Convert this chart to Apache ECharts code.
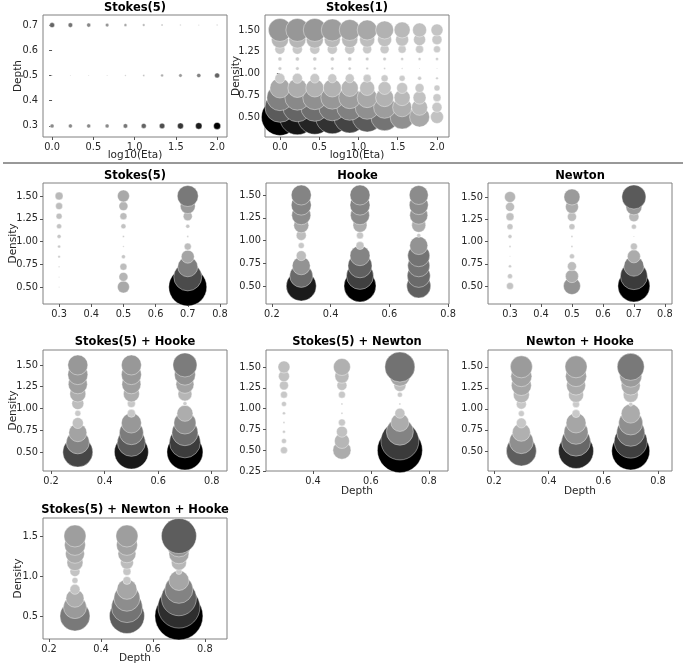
<!DOCTYPE html>
<html><head><meta charset="utf-8">
<script src="https://cdn.jsdelivr.net/npm/echarts@6/dist/echarts.min.js"></script>
<style>html,body{margin:0;padding:0;background:#fff}#c{width:685px;height:665px}</style>
</head><body><div id="c"></div>
<script>
// ---------------- data ----------------
const LOG_ETA = [0, 0.222, 0.444, 0.667, 0.889, 1.111, 1.333, 1.556, 1.778, 2.0];
const DENSITY = [0.5, 0.611, 0.722, 0.833, 0.944, 1.056, 1.167, 1.278, 1.389, 1.5];
const DEPTH = [0.3, 0.5, 0.7];

// Stokes(5) vs log10(Eta): one row per depth (0.3, 0.5, 0.7), values over LOG_ETA
const stokes5EtaMag = [
  [4, 4, 4, 4, 4.5, 5, 5.5, 6, 6.5, 7],
  [1, 1, 1, 1.2, 1.5, 2, 2.8, 3.5, 4.2, 5],
  [5, 4.6, 4.1, 3.6, 3, 2.5, 2, 1.5, 1.2, 1.5]
];
// Stokes(1) vs log10(Eta): one row per density (0.5 ... 1.5), values over LOG_ETA
const stokes1EtaMag = [
  [37, 35.5, 34.5, 33.5, 32, 30, 27.5, 24, 20, 13],
  [30, 29, 28, 27, 26, 24, 22, 19, 16, 10],
  [26, 25, 24, 23, 22, 20, 18, 16, 13, 8],
  [20, 19, 18, 18, 17, 15, 13, 11, 9, 6],
  [10, 10, 9.5, 9, 9, 8, 7, 6, 4, 2.5],
  [3.5, 3.5, 3, 3, 3, 2.5, 2, 1.5, 1, 1],
  [4, 4, 4, 4, 4, 3.5, 3.5, 3, 3, 3],
  [10, 10, 10, 10, 10, 9, 9, 8, 8, 7],
  [17, 17, 17, 16, 16, 15, 14, 13, 12, 10],
  [23, 23, 23, 22, 21, 20, 18, 16, 14, 12]
];
// Depth-vs-density panels: one column per depth (0.3, 0.5, 0.7), values over DENSITY
const stokes5Mag = [
  [1, 1, 1.5, 2.5, 3, 4, 5, 6, 7, 8],
  [12, 9, 7, 4, 1.5, 2, 5, 7, 9, 12],
  [38, 28, 20, 13, 7, 2, 4, 9, 15, 21]
];
const hookeMag = [
  [30, 23, 18, 10, 6, 10, 15, 19, 20, 20],
  [32, 27, 24, 20, 8, 7, 14, 19, 20, 20],
  [24, 23, 22, 22, 18, 4, 14, 18, 19, 19]
];
const newtonMag = [
  [7, 5, 3, 1, 2, 4, 6, 8, 9, 11],
  [17, 13, 9, 5, 2, 2, 6, 9, 13, 16],
  [32, 27, 20, 13, 7, 1, 5, 10, 16, 24]
];
const stokesHookeMag = [
  [30, 23, 18, 11, 6, 12, 16, 19, 20, 20],
  [34, 28, 24, 20, 8, 8, 16, 19, 20, 20],
  [36, 31, 26, 22, 16, 4, 14, 18, 21, 24]
];
const stokesNewtonMag = [
  [7, 5, 3, 2, 3, 5, 7, 9, 11, 12],
  [18, 15, 11, 7, 2, 2, 7, 10, 14, 17],
  [45, 38, 27, 18, 10, 2, 5, 12, 20, 30]
];
const newtonHookeMag = [
  [30, 24, 18, 10, 6, 10, 16, 20, 21, 22],
  [35, 29, 24, 20, 8, 7, 15, 19, 21, 22],
  [38, 33, 28, 24, 19, 4, 15, 19, 22, 27]
];
const allThreeMag = [
  [30, 23, 18, 10, 6, 10, 16, 19, 21, 22],
  [35, 31, 26, 20, 8, 8, 13, 18, 21, 22],
  [48, 42, 35, 28, 20, 6, 15, 20, 24, 35]
];

// tick labels
const ETA_TICKS = [0, 0.5, 1.0, 1.5, 2.0];
const DEPTH_Y_TICKS = [0.3, 0.4, 0.5, 0.6, 0.7];
const DENSITY_TICKS = [0.5, 0.75, 1.0, 1.25, 1.5];
const DENSITY_TICKS_WIDE = [0.25, 0.5, 0.75, 1.0, 1.25, 1.5];
const DENSITY_TICKS_COARSE = [0.5, 1.0, 1.5];
const DEPTH_TICKS_FINE = [0.3, 0.4, 0.5, 0.6, 0.7, 0.8];
const DEPTH_TICKS = [0.2, 0.4, 0.6, 0.8];
const DEPTH_TICKS_SHORT = [0.4, 0.6, 0.8];

const TITLES = ['Stokes(5)', 'Stokes(1)', 'Stokes(5)', 'Hooke', 'Newton',
  'Stokes(5) + Hooke', 'Stokes(5) + Newton', 'Newton + Hooke', 'Stokes(5) + Newton + Hooke'];

// ---------------- build points ----------------
function rowsOverEta(rows, rowVals) {
  const pts = [];
  rows.forEach((row, i) => row.forEach((m, j) => pts.push([LOG_ETA[j], rowVals[i], m, m * m])));
  return pts;
}
function colsOverDensity(cols) {
  const pts = [];
  cols.forEach((col, i) => col.forEach((m, j) => pts.push([DEPTH[i], DENSITY[j], m, m * m])));
  return pts;
}
const panelData = [
  rowsOverEta(stokes5EtaMag, DEPTH),
  rowsOverEta(stokes1EtaMag, DENSITY),
  colsOverDensity(stokes5Mag),
  colsOverDensity(hookeMag),
  colsOverDensity(newtonMag),
  colsOverDensity(stokesHookeMag),
  colsOverDensity(stokesNewtonMag),
  colsOverDensity(newtonHookeMag),
  colsOverDensity(allThreeMag)
];

// ---------------- layout / style ----------------
const L = [
  {g:[43,15,184,122], x:[-0.11,2.12], y:[0.256,0.74], xt:ETA_TICKS, yt:DEPTH_Y_TICKS, xd:1, yd:1, ty:8, xn:'log10(Eta)', xg:13, yn:'Depth', yg:19, gm:1, textLabels:true},
  {g:[265,15,184,122], x:[-0.19,2.153], y:[0.27,1.672], xt:ETA_TICKS, yt:DENSITY_TICKS, xd:1, yd:2, ty:8, xn:'log10(Eta)', xg:13, yn:'Density', yg:23, gm:1.4},
  {g:[43,183,184,121], x:[0.25,0.822], y:[0.313,1.643], xt:DEPTH_TICKS_FINE, yt:DENSITY_TICKS, xd:1, yd:2, ty:176, yn:'Density', yg:24, gm:0.75},
  {g:[266,183,183,121], x:[0.18,0.803], y:[0.302,1.632], xt:DEPTH_TICKS, yt:DENSITY_TICKS, xd:1, yd:2, ty:176, gm:1.1},
  {g:[488,183,184,121], x:[0.229,0.823], y:[0.298,1.657], xt:DEPTH_TICKS_FINE, yt:DENSITY_TICKS, xd:1, yd:2, ty:176, gm:1},
  {g:[43,350,184,121], x:[0.17,0.857], y:[0.282,1.672], xt:DEPTH_TICKS, yt:DENSITY_TICKS, xd:1, yd:2, ty:342, yn:'Density', yg:24, gm:1.15},
  {g:[266,350,182,121], x:[0.238,0.866], y:[0.25,1.704], xt:DEPTH_TICKS_SHORT, yt:DENSITY_TICKS_WIDE, xd:1, yd:2, ty:342, xn:'Depth', xg:15, gm:1},
  {g:[488,350,184,121], x:[0.178,0.851], y:[0.262,1.70], xt:DEPTH_TICKS, yt:DENSITY_TICKS, xd:1, yd:2, ty:342, xn:'Depth', xg:15, gm:1.3},
  {g:[43,518,184,121], x:[0.177,0.885], y:[0.2125,1.725], xt:DEPTH_TICKS, yt:DENSITY_TICKS_COARSE, xd:1, yd:1, ty:510, xn:'Depth', xg:14, yn:'Density', yg:19, gm:0.95}
];

const FONT = 'DejaVu Sans';
const TXT = '#262626';
const TICK_FS = 9.8;
const grid = [], xAxis = [], yAxis = [], series = [], visualMap = [], title = [];
function axCommon(ticks, dec, labelTicks) {
  return {
    axisLine:{show:false}, splitLine:{show:false},
    axisTick:{show:!!ticks, customValues:ticks || [], length:3, inside:false, lineStyle:{color:'#555', width:1}},
    axisLabel:{show:!!labelTicks, customValues:labelTicks || [], formatter:v => Number(v).toFixed(dec),
      hideOverlap:false, color:TXT, fontFamily:FONT, fontSize:TICK_FS, margin:5}
  };
}
const nameStyle = {fontFamily:FONT, fontSize:10.5, color:TXT};
L.forEach((p, i) => {
  grid.push({left:p.g[0], top:p.g[1], width:p.g[2], height:p.g[3], show:true,
    borderColor:'#808080', borderWidth:1, backgroundColor:'#fff', containLabel:false});
  xAxis.push(Object.assign({type:'value', gridIndex:i, min:p.x[0], max:p.x[1],
    name:p.xn || '', nameLocation:'middle', nameGap:p.xg || 12, nameMoveOverlap:false,
    nameTextStyle:nameStyle}, axCommon(p.xt, p.xd, p.xt)));
  // primary y axis: ticks and every other tick label
  const even = p.yt.filter((t, k) => k % 2 === 0);
  yAxis.push(Object.assign({type:'value', gridIndex:i, min:p.y[0], max:p.y[1], name:''},
    axCommon(p.yt, p.yd, even)));
  const raw = panelData[i];
  let mx = 0; raw.forEach(d => { if (d[3] > mx) mx = d[3]; });
  const data = raw.map(d => d.concat([Math.pow(d[3] / mx, p.gm)]));
  series.push({type:'scatter', xAxisIndex:i, yAxisIndex:i, data:data,
    symbol:'circle', symbolSize:v => v[2],
    itemStyle:{borderColor:'#ffffff', borderWidth:0.4, opacity:1},
    emphasis:{disabled:true}, silent:true, clip:false});
  visualMap.push({type:'continuous', show:false, seriesIndex:i, dimension:4, min:0, max:1,
    inRange:{color:['#cdcdcd', '#000000']}});
  title.push({text:TITLES[i], left:p.g[0] + p.g[2] / 2, top:p.ty - 6, textAlign:'center',
    padding:0, textStyle:{fontFamily:FONT, fontWeight:'bold', fontSize:11.5, color:'#000'}});
});
// companion y axes on the same grids: the remaining tick labels plus the axis name
L.forEach((p, i) => {
  const odd = p.textLabels ? [] : p.yt.filter((t, k) => k % 2 === 1);
  yAxis.push(Object.assign({type:'value', gridIndex:i, min:p.y[0], max:p.y[1], position:'left',
    name:p.yn || '', nameLocation:'middle', nameGap:p.yg || 20, nameMoveOverlap:false,
    nameTextStyle:nameStyle}, axCommon(null, p.yd, odd.length ? odd : null)));
});

const chart = echarts.init(document.getElementById('c'), null, {renderer:'canvas'});
chart.setOption({
  animation:false, backgroundColor:'#fff',
  title, grid, xAxis, yAxis, series, visualMap,
  graphic:[{id:'sep', type:'line', shape:{x1:3, y1:163, x2:683, y2:163}, style:{stroke:'#333', lineWidth:1}}]
});
// remaining tick labels of the top-left depth axis, placed through that axis' own scale
const extra = [];
L.forEach((p, i) => {
  if (!p.textLabels) return;
  p.yt.filter((t, k) => k % 2 === 1).forEach((t, k) => {
    const py = chart.convertToPixel({yAxisIndex:i}, t);
    extra.push({id:'yl' + i + '_' + k, type:'text', x:p.g[0] - 5, y:py,
      style:{text:t.toFixed(p.yd), fill:TXT, font:TICK_FS + 'px "' + FONT + '"', align:'right', verticalAlign:'middle'}});
  });
});
chart.setOption({graphic:extra});
</script></body></html>
